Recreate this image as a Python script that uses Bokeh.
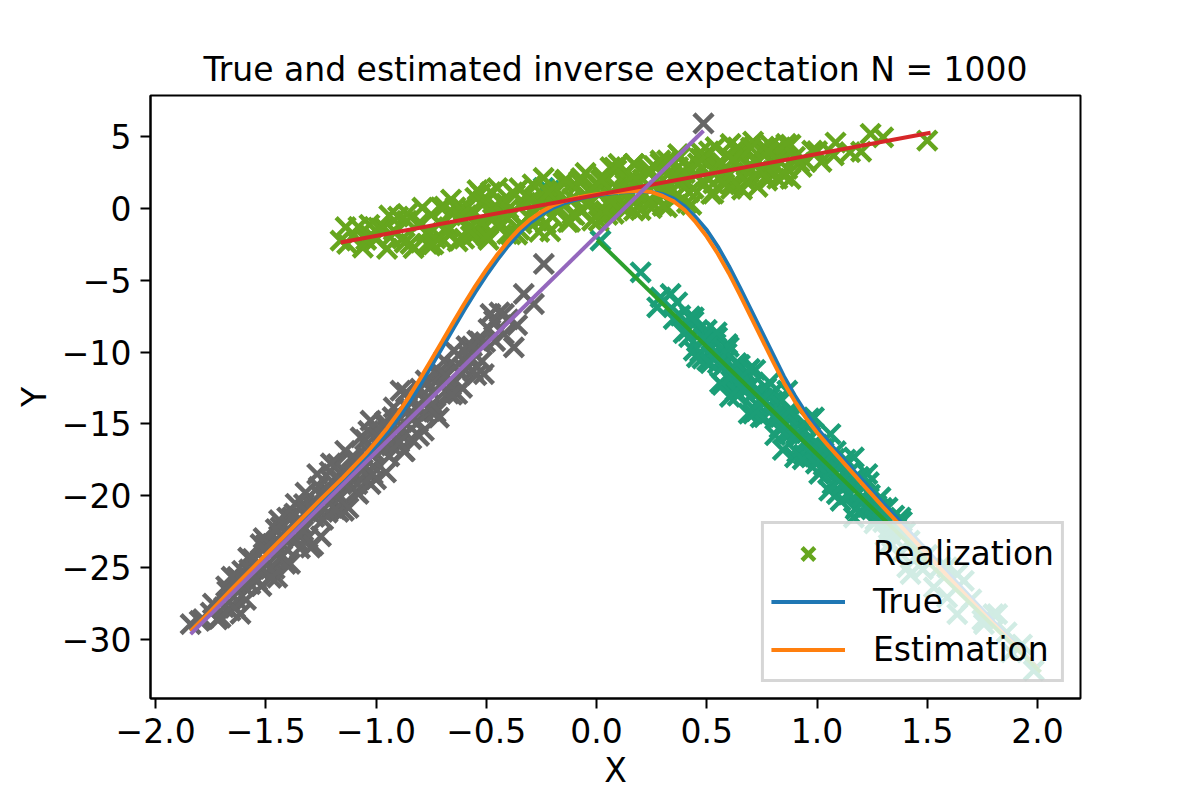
from bokeh.plotting import figure
from bokeh.models import (Range1d, FixedTicker, CustomJSTickFormatter,
                          Legend, LegendItem)
from bokeh.embed import file_html
from bokeh.resources import INLINE

FONT = "DejaVu Sans"

# ---- axis ticks -------------------------------------------------------
x_ticks = [-2.0, -1.5, -1.0, -0.5, 0.0, 0.5, 1.0, 1.5, 2.0]
y_ticks = [-30, -25, -20, -15, -10, -5, 0, 5]

# ---- realizations, one list of (x, y) per mixture component -----------
grey_pts = [
    (-1.841, -28.96), (-1.75, -28.15), (-1.675, -26.64), (-1.63, -27.30),
    (-1.607, -25.24), (-1.539, -25.94), (-1.524, -23.38), (-1.448, -25.71),
    (-1.433, -22.22), (-1.403, -21.53), (-1.297, -23.62), (-1.327, -20.59),
    (-1.267, -18.50), (-1.221, -19.67), (-1.176, -17.80), (-1.146, -21.06),
    (-1.085, -19.20), (-1.07, -15.95), (-1.025, -14.78), (-1.025, -19.20),
    (-0.965, -15.01), (-0.889, -12.69), (-0.874, -16.88), (-0.783, -15.48),
    (-0.753, -14.09), (-0.723, -11.53), (-0.647, -9.90), (-0.632, -12.92),
    (-0.571, -10.60), (-0.541, -9.20), (-0.511, -11.53), (-0.465, -7.81),
    (-0.42, -7.34), (-0.42, -8.74), (-0.375, -9.67), (-0.33, -5.95),
    (-0.284, -6.65), (-0.239, -3.86), (-0.481, -7.34), (0.485, 5.93),
    (-1.80, -28.73), (-1.72, -28.63), (-1.68, -26.32), (-1.66, -28.02),
    (-1.62, -25.82), (-1.58, -24.32), (-1.57, -26.17), (-1.55, -25.06),
    (-1.52, -26.31), (-1.50, -23.41), (-1.49, -24.76), (-1.47, -23.36),
    (-1.46, -25.11), (-1.44, -21.71), (-1.42, -23.50), (-1.40, -22.40),
    (-1.39, -24.75), (-1.37, -21.25), (-1.36, -23.10), (-1.34, -22.00),
    (-1.32, -19.80), (-1.31, -22.94), (-1.29, -20.54), (-1.28, -21.49),
    (-1.26, -19.39), (-1.25, -22.84), (-1.23, -20.04), (-1.22, -21.19),
    (-1.20, -18.99), (-1.19, -19.94), (-1.17, -21.13), (-1.15, -18.63),
    (-1.14, -16.88), (-1.12, -19.28), (-1.10, -17.58), (-1.09, -19.73),
    (-1.07, -17.83), (-1.05, -16.12), (-1.04, -18.37), (-1.02, -16.77),
    (-1.00, -18.87), (-0.99, -15.62), (-0.97, -16.82), (-0.95, -15.52),
    (-0.94, -17.27), (-0.92, -13.86), (-0.90, -15.36), (-0.88, -15.86),
    (-0.86, -13.86), (-0.84, -16.06), (-0.82, -13.86), (-0.80, -12.55),
    (-0.78, -14.25), (-0.76, -12.55), (-0.74, -14.15), (-0.71, -12.30),
    (-0.69, -10.60), (-0.67, -12.89), (-0.64, -11.04), (-0.62, -11.44),
    (-0.59, -9.59), (-0.56, -11.33), (-0.53, -9.28), (-0.49, -8.38),
    (-0.46, -9.23), (-0.44, -7.23), (-0.40, -7.72), (-0.36, -8.12),
    (-1.35, -22.65), (-1.13, -19.13), (-0.98, -16.37), (-1.45, -23.46),
    (-1.60, -26.32), (-0.91, -16.01), (-1.06, -18.17), (-1.27, -20.84),
    (-0.85, -14.51), (-1.18, -18.78),
    (-1.63, -25.67), (-1.59, -27.27), (-1.56, -24.41), (-1.53, -25.16),
    (-1.51, -22.96), (-1.48, -25.11), (-1.43, -22.85), (-1.41, -24.75),
    (-1.38, -21.50), (-1.33, -22.45), (-1.30, -20.59), (-1.24, -21.69),
    (-1.21, -18.34), (-1.16, -20.08), (-1.11, -17.33), (-1.08, -19.88),
    (-1.03, -17.02), (-1.01, -18.02), (-0.96, -14.87), (-0.93, -16.51),
    (-0.89, -14.61), (-0.87, -16.91), (-0.83, -13.31), (-0.81, -14.90),
    (-0.77, -13.20), (-0.73, -14.20), (-0.70, -11.55), (-0.66, -12.34),
    (-0.61, -12.49), (-0.58, -10.24), (-0.52, -10.63), (-1.74, -27.53),
    (-1.69, -27.78), (-1.64, -27.82),
    (-1.785, -28.61), (-1.705, -28.50), (-1.655, -25.65), (-1.615, -28.24),
    (-1.575, -25.14), (-1.545, -25.79), (-1.505, -23.69), (-1.475, -25.73),
    (-1.455, -22.33), (-1.425, -24.18), (-1.395, -22.83), (-1.365, -20.57),
    (-1.345, -23.67), (-1.315, -21.12), (-1.285, -23.47), (-1.255, -19.92),
    (-1.235, -20.91), (-1.205, -17.76), (-1.185, -20.96), (-1.155, -19.01),
    (-1.125, -20.86), (-1.095, -17.40), (-1.065, -18.25), (-1.035, -15.50),
    (-1.015, -18.50), (-0.985, -16.04), (-0.955, -18.39), (-0.925, -14.54),
    (-0.895, -16.29), (-0.865, -12.83), (-0.835, -14.68), (-0.805, -15.83),
    (-0.775, -11.98), (-0.745, -13.62), (-0.715, -14.57), (-0.685, -11.62),
    (-0.655, -12.97), (-0.625, -10.22), (-0.595, -11.26), (-0.565, -9.61),
    (-0.545, -11.61), (-0.505, -9.31),
]

teal_pts = [
    (0.018, -2.23), (0.20, -4.44), (0.29, -6.19), (0.336, -5.95),
    (0.275, -6.88), (0.366, -6.53), (0.441, -7.58), (0.411, -8.51),
    (0.441, -9.90), (0.502, -10.60), (0.547, -8.97), (0.593, -9.44),
    (1.061, -15.71), (1.167, -17.34), (1.228, -18.50), (1.107, -20.36),
    (0.744, -14.55), (0.653, -12.46), (0.865, -12.69), (0.986, -14.55),
    (1.288, -20.13), (1.379, -21.53), (1.167, -21.53), (1.424, -25.47),
    (1.636, -25.47), (1.59, -27.10), (1.636, -28.26), (1.80, -28.26),
    (1.757, -28.96), (1.983, -32.20), (1.59, -25.00), (1.666, -25.94),
    (1.817, -28.26), (1.409, -25.00), (1.53, -26.40),
    (0.46, -8.45), (0.48, -10.45), (0.50, -8.45), (0.52, -10.24),
    (0.54, -9.44), (0.56, -12.14), (0.58, -10.64), (0.60, -9.64),
    (0.61, -11.99), (0.62, -11.04), (0.64, -13.04), (0.65, -10.89),
    (0.66, -12.24), (0.68, -11.44), (0.69, -14.29), (0.70, -12.34),
    (0.72, -11.24), (0.73, -13.69), (0.74, -12.74), (0.76, -14.54),
    (0.77, -12.49), (0.78, -13.94), (0.80, -13.44), (0.81, -15.79),
    (0.82, -14.24), (0.84, -13.34), (0.85, -15.69), (0.86, -14.54),
    (0.88, -15.64), (0.89, -14.49), (0.90, -17.34), (0.92, -15.84),
    (0.93, -15.29), (0.94, -17.14), (0.96, -16.14), (0.97, -14.79),
    (0.98, -17.24), (1.00, -16.44), (1.01, -18.49), (1.02, -17.14),
    (1.04, -16.64), (1.05, -18.49), (1.06, -18.04), (1.08, -17.44),
    (1.09, -19.89), (1.10, -18.14), (1.12, -19.14), (1.13, -17.49),
    (1.14, -19.94), (1.16, -18.94), (1.18, -20.84), (1.19, -19.79),
    (1.20, -18.94), (1.22, -20.84), (1.24, -19.94), (1.26, -21.94),
    (1.28, -20.94), (1.30, -21.84), (1.32, -20.84), (1.34, -22.84),
    (1.36, -22.24), (1.38, -24.04), (1.40, -22.54), (1.45, -24.19),
    (1.50, -24.14), (0.38, -7.45), (0.42, -8.95), (0.44, -7.85),
    (0.35, -7.70), (0.71, -12.89), (0.87, -15.69), (1.03, -17.89),
    (1.15, -19.09), (0.63, -11.49), (0.95, -16.19), (1.70, -27.23),
    (1.88, -30.93), (1.93, -30.38), (-0.215, 1.25), (-0.24, 1.45),
    (0.47, -10.00), (0.51, -9.49), (0.55, -10.79), (0.59, -10.09),
    (0.63, -12.69), (0.67, -11.69), (0.71, -14.29), (0.75, -13.19),
    (0.79, -12.99), (0.83, -15.29), (0.87, -14.39), (0.91, -16.99),
    (0.95, -15.09), (0.99, -17.29), (1.03, -16.99), (1.07, -19.19),
    (1.11, -17.89), (1.15, -19.89), (1.19, -18.69), (1.23, -20.79),
    (1.27, -20.69), (1.31, -22.79), (1.35, -21.39), (1.42, -23.14),
    (1.48, -25.14), (1.56, -24.93), (1.75, -28.68), (1.86, -29.53),
    (0.53, -9.09), (0.57, -12.29),
    (0.395, -8.67), (0.425, -7.52), (0.455, -10.37), (0.485, -9.02),
    (0.515, -10.77), (0.545, -8.62), (0.575, -10.97), (0.605, -13.12),
    (0.635, -10.77), (0.665, -12.62), (0.695, -11.17), (0.725, -14.12),
    (0.755, -13.27), (0.785, -12.12), (0.815, -14.67), (0.845, -16.82),
    (0.875, -14.07), (0.905, -15.72), (0.935, -17.47), (0.965, -14.62),
    (0.995, -17.77), (1.025, -16.71), (1.055, -19.66), (1.085, -16.91),
    (1.115, -19.26), (1.145, -18.41), (1.175, -20.96), (1.205, -20.11),
    (1.235, -19.06), (1.265, -21.71), (1.295, -20.86), (1.325, -23.41),
    (1.355, -22.16), (1.385, -21.81),
]

green_pts = [
    (-1.138, -1.30), (-1.161, -2.23), (-1.131, -2.46), (-0.965, -1.30),
    (-0.859, -0.37), (-0.844, -2.46), (-0.768, -2.46), (-0.707, 0.09),
    (-0.693, -2.23), (-0.526, 1.03), (-0.556, -1.76), (-0.405, -1.76),
    (-0.602, -0.14), (-0.935, -2.00), (-0.753, -2.58), (-0.541, -1.65),
    (1.50, 4.74), (1.243, 5.21), (1.084, 4.60), (1.076, 3.70),
    (0.978, 4.04), (0.865, 2.77), (0.88, 2.07), (0.834, 4.27),
    (0.774, 1.95), (0.623, 1.60), (0.608, 4.51), (0.472, 3.93),
    (0.744, 4.04), (0.32, 0.09), (0.17, -0.14), (0.078, -0.37),
    (0.063, 2.88), (0.17, 3.12), (0.92, 3.20), (0.93, 2.90),
    (-1.10, -1.83), (-1.06, -2.72), (-1.03, -1.13), (-1.00, -2.15),
    (-0.98, -1.39), (-0.95, -2.80), (-0.92, -1.52), (-0.90, -0.56),
    (-0.88, -2.10), (-0.86, -0.85), (-0.83, -2.76), (-0.81, -1.10),
    (-0.79, 0.06), (-0.77, -1.69), (-0.75, -0.43), (-0.73, -2.07),
    (-0.71, -1.01), (-0.69, 0.14), (-0.67, -1.30), (-0.65, -0.34),
    (-0.63, -2.28), (-0.61, 0.07),
    (-0.59, -0.47), (-0.57, -1.91), (-0.55, 0.75), (-0.53, -1.10),
    (-0.51, 0.36), (-0.49, -2.18), (-0.47, -0.42), (-0.45, 1.43),
    (-0.43, -1.11), (-0.41, 0.35), (-0.39, -0.39), (-0.37, 0.96),
    (-0.35, -1.48), (-0.33, 0.38), (-0.31, -0.57), (-0.29, 1.69),
    (-0.27, -0.85), (-0.25, 0.41), (-0.23, 1.27), (-0.21, -1.58),
    (-0.19, 1.08), (-0.17, 0.04), (-0.15, 1.80), (-0.13, -0.95),
    (-0.11, 0.71), (-0.09, 1.57), (-0.07, -0.18), (-0.05, 2.48),
    (-0.03, 0.54), (-0.01, 1.40), (0.01, -0.85), (0.03, 2.21),
    (0.05, 0.37), (0.07, 1.13), (0.09, 2.69), (0.11, 0.14),
    (0.13, 1.70), (0.15, 1.16), (0.17, 3.11), (0.19, 0.17),
    (0.21, 1.03), (0.23, 2.59), (0.25, 0.04), (0.27, 2.00),
    (0.29, 3.16), (0.31, 1.02), (0.33, 2.47), (0.35, 0.73),
    (0.37, 3.79), (0.39, 1.95), (0.41, 2.90), (0.43, 0.26),
    (0.45, 2.42), (0.47, 3.48), (0.49, 1.73), (0.51, 3.99),
    (0.53, 1.05), (0.55, 3.01), (0.57, 2.26), (0.59, 3.72),
    (0.61, 1.68), (0.63, 3.14), (0.65, 4.09), (0.67, 2.15),
    (0.69, 2.91), (0.71, 4.67), (0.73, 1.52), (0.75, 3.98),
    (0.77, 2.74), (0.79, 4.40), (0.81, 3.05), (0.83, 3.91),
    (0.85, 2.27),
    (-0.55, -1.55), (-0.51, 0.66), (-0.47, -0.72), (-0.43, 0.49),
    (-0.39, -1.79), (-0.35, 1.42), (-0.31, -0.57), (-0.27, 0.35),
    (-0.23, -1.04), (-0.19, 1.38), (-0.15, 0.40), (-0.11, -0.39),
    (-0.07, 2.13), (-0.03, 0.34), (0.01, 1.66), (0.05, -0.43),
    (0.09, 1.49), (0.13, 2.40), (0.17, 0.61), (0.21, 2.03),
    (0.25, 0.44), (0.29, 3.36), (0.33, 1.57), (0.37, 2.89),
    (0.41, 0.40), (0.45, 2.32), (0.49, 3.63), (0.53, 1.75),
    (0.57, 3.16), (0.61, 1.38), (0.65, 3.79), (0.69, 2.51),
    (0.73, 3.32), (0.77, 2.24), (0.81, 4.05),
    (-0.68, -1.63), (-0.64, 0.09), (-0.60, -2.10), (-0.56, -0.18),
    (-0.52, -0.97), (-0.48, 1.15), (-0.44, -1.34), (-0.40, -0.02),
    (-0.36, -1.81), (-0.32, 0.91), (-0.28, -0.18), (-0.24, 2.14),
    (-0.20, -0.55), (-0.16, 0.97), (-0.12, -0.92), (-0.08, 1.90),
    (-0.04, 0.21), (0.00, 1.23), (0.04, -0.16), (0.08, 2.86),
    (0.12, 1.07), (0.16, 2.19), (0.20, -0.10), (0.24, 2.72),
    (0.28, 1.23), (0.32, 3.35), (0.36, 0.86), (0.40, 2.48),
    (0.44, 1.39), (0.48, 3.41), (0.52, 1.02), (0.56, 3.24),
    (0.60, 2.35), (0.64, 4.27), (0.68, 1.88), (0.72, 3.30),
    (0.76, 4.31), (0.80, 2.62), (0.84, 3.84), (0.88, 4.45),
    (0.95, 3.26), (1.00, 4.00), (1.15, 3.93), (1.30, 4.96),
    (-1.08, -1.28), (-1.045, -2.18), (-0.99, -1.32), (-0.94, -0.48),
    (-0.87, -2.37), (-0.80, -0.97), (-0.74, -2.50), (-0.66, 0.63),
    (-0.62, -0.56), (-0.58, -1.44), (-0.54, 1.28), (-0.50, -1.91),
    (-0.46, 0.20), (-0.42, -0.48), (-0.38, 1.13), (-0.34, -1.05),
    (-0.30, 0.56), (-0.26, -1.62), (-0.22, 1.09), (-0.18, 0.11),
    (-0.14, 2.02), (-0.10, -0.46), (-0.06, 0.85), (-0.02, -0.83),
    (0.02, 1.98), (0.06, 0.60), (0.10, 3.11), (0.14, 0.03),
    (0.18, 2.04), (0.22, 0.96), (0.26, 2.97), (0.30, 0.19),
    (0.34, 2.10), (0.38, 3.62), (0.42, 1.13), (0.46, 3.15),
    (0.50, 2.16), (0.54, 4.28), (0.58, 1.69), (0.62, 3.41),
    (0.66, 1.32), (0.70, 4.24), (0.74, 2.65), (0.78, 3.97),
    (0.82, 2.08), (0.86, 4.50), (0.90, 3.61), (1.02, 3.26),
    (1.20, 3.97),
]

# ---- conditional expectation curves -----------------------------------
curve_x = [-1.841, -1.75, -1.65, -1.55, -1.45, -1.35, -1.25, -1.15, -1.05,
           -1.00, -0.95, -0.90, -0.85, -0.80, -0.75, -0.70, -0.65, -0.60,
           -0.55, -0.50, -0.45, -0.40, -0.35, -0.30, -0.25, -0.20, -0.15,
           -0.10, -0.05, 0.00, 0.05, 0.10, 0.15, 0.20, 0.25, 0.30, 0.35,
           0.40, 0.45,
           0.50, 0.55, 0.60, 0.65, 0.70, 0.75, 0.80, 0.85, 0.90, 0.95,
           1.00, 1.05, 1.10,
           1.20, 1.30, 1.40, 1.50, 1.60, 1.70, 1.80, 1.90, 2.00]
true_y = [-29.45, -28.10, -26.55, -25.00, -23.45, -21.90, -20.40, -18.90,
          -17.35,
          -16.50, -15.60, -14.60, -13.50, -12.30, -11.00, -9.70, -8.38,
          -7.07, -5.82, -4.65, -3.57, -2.58, -1.70, -0.98, -0.42, 0.03,
          0.36, 0.60, 0.79, 0.93, 1.04, 1.12, 1.18, 1.21, 1.16, 1.00, 0.70,
          0.15, -0.60,
          -1.50, -2.65, -4.00, -5.50, -7.05, -8.60, -10.15, -11.70, -13.05,
          -14.25, -15.30, -16.22, -17.10,
          -18.84, -20.54, -22.19, -23.84, -25.51, -27.15, -28.77, -30.39,
          -32.00]
est_y = [-29.45, -28.05, -26.45, -24.90, -23.35, -21.80, -20.25, -18.75,
         -17.15,
         -16.25, -15.30, -14.25, -13.10, -11.85, -10.55, -9.25, -7.93,
         -6.63, -5.40, -4.25, -3.20, -2.25, -1.42, -0.75, -0.22, 0.20,
         0.50, 0.72, 0.88, 1.00, 1.09, 1.16, 1.21, 1.24, 1.15, 0.88, 0.50,
         -0.10, -0.95,
         -1.95, -3.15, -4.50, -6.00, -7.55, -9.10, -10.65, -12.15, -13.45,
         -14.60, -15.60, -16.50, -17.35,
         -19.10, -20.80, -22.45, -24.10, -25.75, -27.35, -28.95, -30.50,
         -32.05]

# ---- per-component affine fits (end points) ---------------------------
fit_grey_x, fit_grey_y = [-1.841, 0.485], [-29.65, 5.42]
fit_green_x, fit_green_y = [-1.161, 1.515], [-2.37, 5.28]
fit_teal_x, fit_teal_y = [0.003, 2.014], [-2.19, -32.30]

C_GREY, C_TEAL, C_GREEN = "#666666", "#1b9e77", "#66a61e"


def split(pts):
    return [q[0] for q in pts], [q[1] for q in pts]


p = figure(width=1200, height=800,
           x_range=Range1d(-2.023, 2.195), y_range=Range1d(-34.14, 7.88),
           output_backend="svg", toolbar_location=None,
           min_border_left=150, min_border_right=120,
           min_border_top=95, min_border_bottom=102,
           title="True and estimated inverse expectation N = 1000")
p.background_fill_color = "white"
p.border_fill_color = "white"
p.grid.visible = False
p.outline_line_color = "black"
p.outline_line_width = 2

p.title.text_font = FONT
p.title.text_font_size = "33px"
p.title.text_font_style = "normal"
p.title.text_color = "black"
p.title.align = "center"
p.title.standoff = 13

p.xaxis.axis_label = "X"
p.yaxis.axis_label = "Y"
p.xaxis.ticker = FixedTicker(ticks=x_ticks)
p.yaxis.ticker = FixedTicker(ticks=y_ticks)
p.xaxis.formatter = CustomJSTickFormatter(
    code="return tick.toFixed(1).replace('-', '\u2212');")
p.yaxis.formatter = CustomJSTickFormatter(
    code="return tick.toFixed(0).replace('-', '\u2212');")
for ax in (p.xaxis[0], p.yaxis[0]):
    ax.axis_line_width = 2
    ax.axis_line_color = "black"
    ax.major_tick_out = 10
    ax.major_tick_in = 0
    ax.major_tick_line_width = 2
    ax.minor_tick_out = 0
    ax.minor_tick_in = 0
    ax.major_label_text_font = FONT
    ax.major_label_text_font_size = "33px"
    ax.major_label_text_color = "black"
    ax.major_label_standoff = 9
    ax.axis_label_text_font = FONT
    ax.axis_label_text_font_size = "33px"
    ax.axis_label_text_font_style = "normal"
    ax.axis_label_text_color = "black"
    ax.axis_label_standoff = 5

gx, gy = split(grey_pts)
tx, ty = split(teal_pts)
ex, ey = split(green_pts)
mk = dict(marker="x", size=27, line_width=4.5)
p.scatter(gx, gy, line_color=C_GREY, **mk)
p.scatter(tx, ty, line_color=C_TEAL, **mk)
r_real = p.scatter(ex, ey, line_color=C_GREEN, **mk)

r_true = p.line(curve_x, true_y, line_color="#1f77b4", line_width=4)
r_est = p.line(curve_x, est_y, line_color="#ff7f0e", line_width=4)
p.line(fit_green_x, fit_green_y, line_color="#d62728", line_width=4)
p.line(fit_teal_x, fit_teal_y, line_color="#2ca02c", line_width=4)
p.line(fit_grey_x, fit_grey_y, line_color="#9467bd", line_width=4)

legend = Legend(items=[
    LegendItem(label="Realization", renderers=[r_real]),
    LegendItem(label="True", renderers=[r_true]),
    LegendItem(label="Estimation", renderers=[r_est]),
], location="bottom_right")
legend.margin = 16
legend.padding = 7
legend.spacing = 3
legend.glyph_width = 74
legend.glyph_height = 45
legend.label_height = 45
legend.label_standoff = 28
legend.label_text_font = FONT
legend.label_text_font_size = "33px"
legend.label_text_color = "black"
legend.border_line_color = "#cccccc"
legend.border_line_width = 3
legend.border_line_alpha = 0.8
legend.background_fill_color = "white"
legend.background_fill_alpha = 0.8
p.add_layout(legend)

open("out.html", "w").write(file_html(p, INLINE))
